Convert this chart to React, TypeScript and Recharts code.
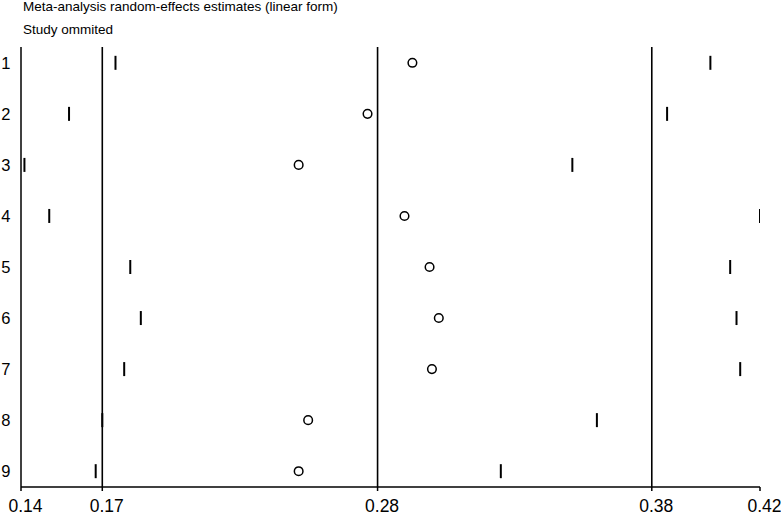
import React from "react"
import { ScatterChart, Scatter, XAxis, YAxis, ReferenceLine } from "recharts"

// study omitted (row), and the pooled estimate with its CI when that study is left out
const studies = [1, 2, 3, 4, 5, 6, 7, 8, 9]
const lowerCI = [0.1758, 0.1582, 0.1413, 0.1507, 0.1814, 0.1854, 0.1791, 0.1708, 0.1683]
const estimates = [0.2883, 0.2713, 0.2452, 0.2853, 0.2948, 0.2983, 0.2957, 0.2488, 0.2452]
const upperCI = [0.4012, 0.3848, 0.3489, 0.42, 0.4087, 0.4111, 0.4125, 0.3582, 0.3218]

// overall lower CI, estimate, upper CI
const overallLines = [0.1708, 0.2751, 0.379]
const xTicks = [0.14, 0.1708, 0.2751, 0.379, 0.42]

const titleLines = ["Meta-analysis random-effects estimates (linear form)", "Study ommited"]

const FONT = '"Liberation Sans", Arial, Helvetica, sans-serif'

const toPoints = (values: number[]) => studies.map((s, i) => ({ study: s, value: values[i] }))

const CircleMark = (props: any) => {
  const { cx, cy } = props
  if (cx == null || cy == null) return null
  return <circle cx={cx} cy={cy} r={4.3} fill="none" stroke="#000" strokeWidth={1.5} />
}

const BarMark = (props: any) => {
  const { cx, cy } = props
  if (cx == null || cy == null) return null
  return <line x1={cx} x2={cx} y1={cy - 7} y2={cy + 7} stroke="#000" strokeWidth={2} />
}

const XTick = (props: any) => {
  const { x, y, payload } = props
  return (
    <text x={x + 4.5} y={y + 19} textAnchor="middle" fontFamily={FONT} fontSize={17.5} fill="#000">
      {Number(payload.value).toFixed(2)}
    </text>
  )
}

const YTick = (props: any) => {
  const { y, payload } = props
  return (
    <text x={10.5} y={y} dy="0.36em" textAnchor="end" fontFamily={FONT} fontSize={16.5} fill="#000">
      {payload.value}
    </text>
  )
}

export default function App() {
  return (
    <div style={{ position: "absolute", left: 0, top: 0, width: 781, height: 513, background: "#fff" }}>
      <ScatterChart width={781} height={513} margin={{ top: 47, right: 21, bottom: 0, left: 0 }}>
        <XAxis
          type="number"
          dataKey="value"
          domain={[0.14, 0.42]}
          ticks={xTicks}
          allowDataOverflow
          height={26}
          tickSize={4}
          tick={<XTick />}
          axisLine={{ stroke: "#000", strokeWidth: 1.5 }}
          tickLine={{ stroke: "#000", strokeWidth: 1.5 }}
        />
        <YAxis
          type="number"
          dataKey="study"
          domain={[0.69, 9.31]}
          ticks={studies}
          reversed
          allowDataOverflow
          width={21}
          tick={<YTick />}
          tickLine={false}
          axisLine={{ stroke: "#000", strokeWidth: 1.5 }}
        />
        {overallLines.map((v) => (
          <ReferenceLine key={v} x={v} stroke="#000" strokeWidth={1.6} />
        ))}
        <Scatter data={toPoints(lowerCI)} shape={<BarMark />} isAnimationActive={false} />
        <Scatter data={toPoints(estimates)} shape={<CircleMark />} isAnimationActive={false} />
        <Scatter data={toPoints(upperCI)} shape={<BarMark />} isAnimationActive={false} />
      </ScatterChart>
      <svg width={781} height={45} style={{ position: "absolute", left: 0, top: 0, pointerEvents: "none" }}>
        {titleLines.map((t, i) => (
          <text key={t} x={23} y={10.5 + i * 23.5} fontFamily={FONT} fontSize={13.5} fill="#000">
            {t}
          </text>
        ))}
      </svg>
    </div>
  )
}
